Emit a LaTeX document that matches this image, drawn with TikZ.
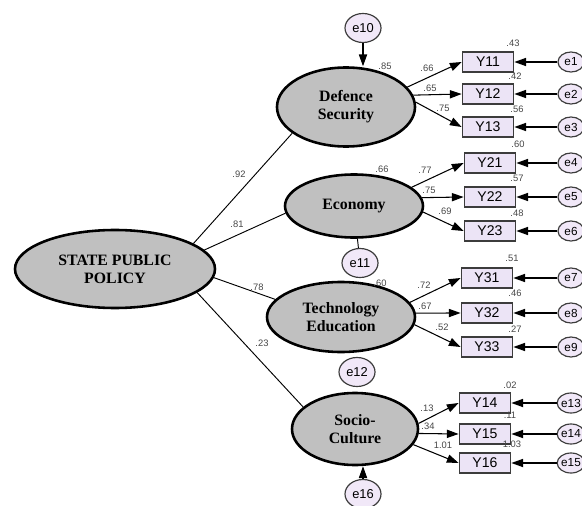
\documentclass[tikz,border=0pt]{standalone}
\usepackage{fontspec}
\setmainfont{Liberation Sans}
\newfontfamily\timesfont{Liberation Serif}
\usepackage{tikz}
\usetikzlibrary{arrows.meta,shapes.geometric}
\definecolor{latgray}{RGB}{192,192,192}
\definecolor{boxfill}{RGB}{236,228,246}
\definecolor{errfill}{RGB}{241,232,248}
\definecolor{rimgray}{RGB}{60,60,60}
\definecolor{estgray}{RGB}{70,70,70}

\begin{document}
\begin{tikzpicture}[x=0.03cm,y=-0.03cm,
    latent/.style={ellipse,draw,line width=2.2pt,fill=latgray,inner sep=0pt,align=center,
        font=\timesfont\bfseries\fontsize{13.5}{15.5}\selectfont},
    obs/.style={rectangle,draw=rimgray,line width=1pt,fill=boxfill,minimum width=1.55cm,
        minimum height=0.6cm,inner sep=0pt,font=\fontsize{12}{12}\selectfont},
    bigerr/.style={ellipse,draw=rimgray,line width=1pt,fill=errfill,minimum width=1.08cm,
        minimum height=0.87cm,inner sep=0pt,font=\fontsize{11}{11}\selectfont},
    smallerr/.style={ellipse,draw=rimgray,line width=1pt,fill=errfill,minimum width=0.78cm,
        minimum height=0.6cm,inner sep=0pt,font=\fontsize{10}{10}\selectfont},
    est/.style={text=estgray,inner sep=0pt,font=\fontsize{8}{8}\selectfont},
    regarrow/.style={line width=0.9pt,-{Triangle[length=10pt,width=7pt]}},
    link/.style={line width=0.8pt}
]
    \useasboundingbox (0,0) rectangle (582,506);

    % Latent variables
    \node[latent,minimum width=6cm,minimum height=2.34cm] (spp) at (115,269) {STATE PUBLIC\\POLICY};
    \node[latent,minimum width=4.14cm,minimum height=2.37cm] (ds) at (346,107) {Defence\\Security};
    \node[latent,minimum width=4.14cm,minimum height=1.89cm] (ec) at (354,206) {Economy};
    \node[latent,minimum width=4.44cm,minimum height=2.1cm] (te) at (341,317) {Technology\\Education};
    \node[latent,minimum width=3.78cm,minimum height=2.16cm] (sc) at (355,429) {Socio-\\Culture};

    % Disturbances
    \node[bigerr] (e10) at (363,28) {e10};
    \node[bigerr] (e11) at (360,263) {e11};
    \node[bigerr] (e12) at (357,372) {e12};
    \node[bigerr] (e16) at (363,494) {e16};

    % Indicators and their errors
    \foreach \n/\x/\y in {11/488/62,12/488/94,13/488/127,21/490/163,22/490/197,23/490/231,
        31/487/278,32/487/313,33/487/347,14/485/403,15/485/434,16/485/463} {
        \node[obs] (y\n) at (\x,\y) {Y\n};
    }
    \foreach \e/\n in {1/11,2/12,3/13,4/21,5/22,6/23,7/31,8/32,9/33,13/14,14/15,15/16} {
        \node[smallerr] (e\e) at (571,0 |- y\n) {e\e};
        \draw[regarrow] (e\e) -- (y\n.east);
    }

    % Second order paths
    \draw[link] (spp.18) -- (ds.206);
    \draw[link] (spp.12) -- (ec.186);
    \draw[link] (spp.-5) -- (te.165);
    \draw[link] (spp.-16) -- (sc.157);

    % Loadings
    \foreach \f/\a/\n in {ds/18/11,ds/10/12,ds/4/13,ec/18/21,ec/7/22,ec/-5/23,
        te/12/31,te/3/32,te/-6/33,sc/5/14,sc/-4/15,sc/-15/16} {
        \draw[regarrow] (\f.\a) -- (y\n.west);
    }

    % Disturbance paths
    \draw[regarrow] (e10) -- (e10 |- ds.north);
    \draw[link] (e11) -- (ec);
    \draw[regarrow] (e16) -- (e16 |- sc.south);

    % Estimates
    \foreach \x/\y/\t [count=\k] in {239/174/.92,237/224/.81,257/287/.78,262/343/.23,
        385/66/.85,427/68/.66,430/88/.65,443/108/.75,513/43/.43,515/76/.42,517/109/.56,
        518/144/.60,382/169/.66,425/170/.77,429/190/.75,445/211/.69,517/178/.57,517/213/.48,
        512/258/.51,380/283/.60,424/285/.72,425/306/.67,515/293/.46,442/327/.52,515/329/.27,
        510/385/.02,427/408/.13,428/426/.34,510/415/.11,443/445/1.01,512/444/1.03} {
        \node[est] (w\k) at (\x,\y) {\t};
    }
\end{tikzpicture}
\end{document}
